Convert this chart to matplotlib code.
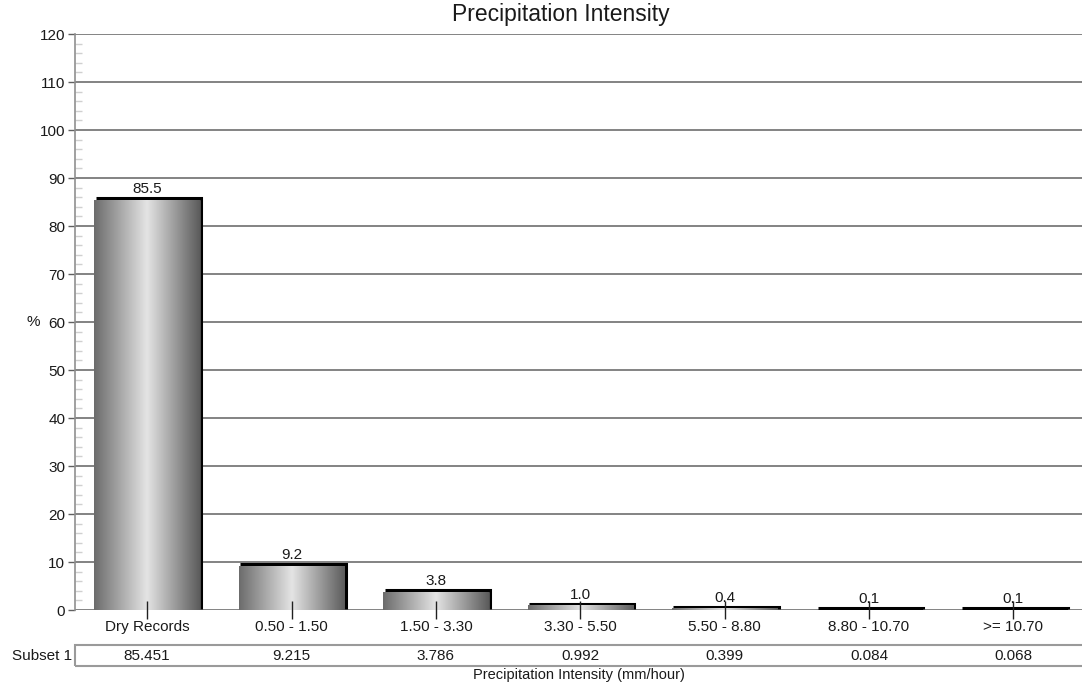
import numpy as np
import matplotlib
matplotlib.use('Agg')
import matplotlib.pyplot as plt
from matplotlib.colors import LinearSegmentedColormap
from matplotlib.patches import Rectangle
from matplotlib.transforms import blended_transform_factory, ScaledTranslation
from matplotlib.ticker import MultipleLocator

plt.rcParams['font.family'] = ['Liberation Sans', 'DejaVu Sans']

# intensity classes (mm/hour) and share of records in each (%)
categories = ['Dry Records', '0.50 - 1.50', '1.50 - 3.30', '3.30 - 5.50',
              '5.50 - 8.80', '8.80 - 10.70', '>= 10.70']
subset1 = [85.451, 9.215, 3.786, 0.992, 0.399, 0.084, 0.068]
series_name = 'Subset 1'

W, H = 1082, 683
fig = plt.figure(figsize=(W / 100, H / 100), dpi=100)
ax = fig.add_axes([75 / W, (H - 610) / H, (1085.5 - 75) / W, 576 / H])

x = np.arange(len(categories))
txt = '#1a1a1a'

# cylinder-style shading across each bar
shade = LinearSegmentedColormap.from_list(
    'shade', ['#6c6c6c', '#a8a8a8', '#e4e4e4', '#a0a0a0', '#5c5c5c'])
grad = np.linspace(0, 1, 256).reshape(1, -1)

# top/right shadow drawn a couple of pixels up and to the right
shift = ax.transData + ScaledTranslation(1.5 / 100, 1.5 / 100, fig.dpi_scale_trans)

bars = ax.bar(x, subset1, width=0.73, color='#999999', edgecolor='#505050',
              linewidth=0.5, zorder=2)
for b in bars:
    x0, x1, h = b.get_x(), b.get_x() + b.get_width(), b.get_height()
    ax.plot([x0, x1, x1], [h, h, 0], color='black', lw=2.2, transform=shift,
            zorder=1.9, solid_capstyle='butt', solid_joinstyle='miter')
    im = ax.imshow(grad, cmap=shade, aspect='auto', zorder=2.1, extent=(x0, x1, 0, h))
    im.set_clip_path(b)
    ax.annotate(f'{h:.1f}', ((x0 + x1) / 2, h), xytext=(0, 2.5), textcoords='offset points',
                ha='center', va='bottom', fontsize=11, color=txt, zorder=4)

ax.set_xlim(-0.5, len(categories) - 0.5)
ax.set_ylim(0, 120)

# horizontal grid behind the bars
for yv in range(0, 121, 10):
    ax.axhline(yv, color='#7a7a7a', lw=1.3, zorder=0.5)

for s in ['top', 'right', 'bottom']:
    ax.spines[s].set_visible(False)
ax.spines['left'].set_color('#909090')
ax.spines['left'].set_linewidth(1.2)

ax.yaxis.set_major_locator(MultipleLocator(10))
ax.yaxis.set_minor_locator(MultipleLocator(2))
ax.tick_params(axis='y', which='major', direction='out', length=5, width=1,
               color='#606060', labelsize=11, labelcolor=txt, pad=2)
ax.tick_params(axis='y', which='minor', direction='in', length=5, width=1, color='#d0d0d0')

ax.set_xticks(x)
ax.set_xticklabels(categories)
ax.tick_params(axis='x', direction='inout', length=13, width=1, color='#202020',
               labelsize=11, labelcolor=txt, pad=1)
ax.xaxis.set_zorder(5)

fig.text(561 / W, 1 - 15 / H, 'Precipitation Intensity', ha='center', va='center',
         fontsize=16.5, color=txt)
fig.text(33 / W, 1 - 322 / H, '%', ha='center', va='center', fontsize=11, color=txt)

# data table under the axis
fig.patches.append(Rectangle((75 / W, 1 - 666 / H), 1.0, 21 / H, transform=fig.transFigure,
                             facecolor='none', edgecolor='#9a9a9a', lw=1.5))
fig.text(72 / W, 1 - 656 / H, series_name, ha='right', va='center', fontsize=11, color=txt)
row = blended_transform_factory(ax.transData, fig.transFigure)
for xi, v in zip(x, subset1):
    ax.text(xi, 1 - 656 / H, f'{v:.3f}', transform=row, ha='center', va='center',
            fontsize=11, color=txt, clip_on=False)

fig.text(579 / W, 1 - 675 / H, 'Precipitation Intensity (mm/hour)', ha='center', va='center',
         fontsize=10.5, color=txt)

fig.savefig('out.png', dpi=100)
